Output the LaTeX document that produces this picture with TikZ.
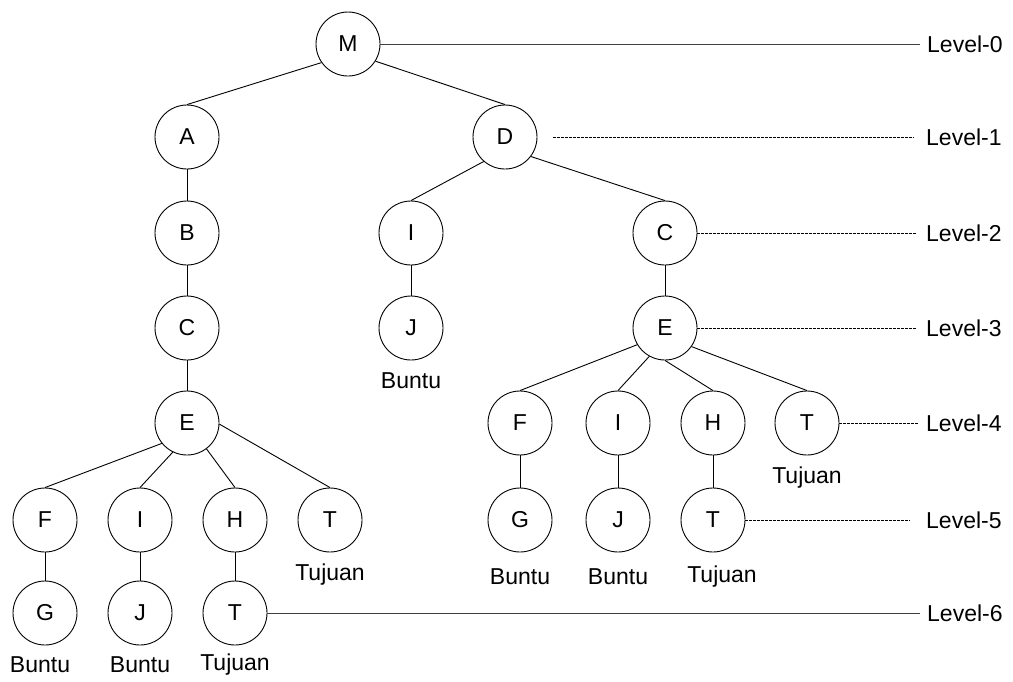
\documentclass[tikz,border=0pt]{standalone}
\usepackage{fontspec}
\setmainfont{Liberation Sans}
\begin{document}
\begin{tikzpicture}[x=1pt,y=-1pt,
  nd/.style={circle,draw,line width=0.9pt,minimum size=64pt,inner sep=0pt,font=\fontsize{23}{27}\selectfont},
  lbl/.style={font=\fontsize{23}{27}\selectfont,inner sep=0pt},
  lvl/.style={font=\fontsize{23}{27}\selectfont,inner sep=0pt,anchor=west},
  edge/.style={line width=0.9pt},
  solidlvl/.style={line width=1pt,black!75},
  dashlvl/.style={line width=0.8pt,dash pattern=on 3pt off 1pt}]
\useasboundingbox (0,0) rectangle (1013,681);
% nodes
\node[nd] (M) at (348,44) {M};
\node[nd] (A) at (187,137) {A};
\node[nd] (D) at (505,137) {D};
\node[nd] (B) at (187,233) {B};
\node[nd] (I1) at (411,233) {I};
\node[nd] (C2) at (665,233) {C};
\node[nd] (C1) at (187,328) {C};
\node[nd] (J1) at (411,328) {J};
\node[nd] (E2) at (665,328) {E};
\node[nd] (E1) at (187,423) {E};
\node[nd] (F2) at (520,423) {F};
\node[nd] (I3) at (618,423) {I};
\node[nd] (H2) at (713,423) {H};
\node[nd] (T2) at (807,423) {T};
\node[nd] (F1) at (45,520) {F};
\node[nd] (I2) at (140,520) {I};
\node[nd] (H1) at (235,520) {H};
\node[nd] (T1) at (330,520) {T};
\node[nd] (G2) at (520,520) {G};
\node[nd] (J3) at (618,520) {J};
\node[nd] (T3) at (713,520) {T};
\node[nd] (G1) at (45,613) {G};
\node[nd] (J2) at (140,613) {J};
\node[nd] (T4) at (235,613) {T};
% edges (parent anchor angle / child)
\foreach \a/\ang/\b in {M/215/A,M/328/D,A/270/B,B/270/C1,C1/270/E1,
  E1/219/F1,E1/244/I2,E1/307/H1,E1/358/T1,F1/270/G1,I2/270/J2,H1/270/T4,
  D/229/I1,D/323/C2,I1/270/J1,C2/270/E2,
  E2/211/F2,E2/241/I3,E2/270/H2,E2/325/T2,F2/270/G2,I3/270/J3,H2/270/T3}
  \draw[edge] (\a.\ang) -- (\b.north);
% small labels
\node[lbl] (b1) at (411,381) {Buntu};
\node[lbl] (tj1) at (807,478) {Tujuan};
\node[lbl] (tj2) at (330,575) {Tujuan};
\node[lbl] (b2) at (520,577) {Buntu};
\node[lbl] (b3) at (618,577) {Buntu};
\node[lbl] (tj3) at (722,577) {Tujuan};
\node[lbl] (b4) at (40,665) {Buntu};
\node[lbl] (b5) at (140,665) {Buntu};
\node[lbl] (tj4) at (235,665) {Tujuan};
% level labels
\node[lvl] (L0) at (927,44) {Level-0};
\node[lvl] (L1) at (926,137) {Level-1};
\node[lvl] (L2) at (926,233) {Level-2};
\node[lvl] (L3) at (926,328) {Level-3};
\node[lvl] (L4) at (926,423) {Level-4};
\node[lvl] (L5) at (926,520) {Level-5};
\node[lvl] (L6) at (927,613) {Level-6};
\coordinate (s1) at (553,137);
\coordinate (e0) at (920,44);
\coordinate (e1) at (914,137);
\coordinate (e2) at (916,233);
\coordinate (e3) at (916,328);
\coordinate (e4) at (918,423);
\coordinate (e5) at (910,520);
\coordinate (e6) at (920,613);
\draw[solidlvl] (M.east) -- (e0);
\draw[dashlvl] (s1) -- (e1);
\draw[dashlvl] (C2.east) -- (e2);
\draw[dashlvl] (E2.east) -- (e3);
\draw[dashlvl] (T2.east) -- (e4);
\draw[dashlvl] (T3.east) -- (e5);
\draw[solidlvl] (T4.east) -- (e6);
\end{tikzpicture}
\end{document}
